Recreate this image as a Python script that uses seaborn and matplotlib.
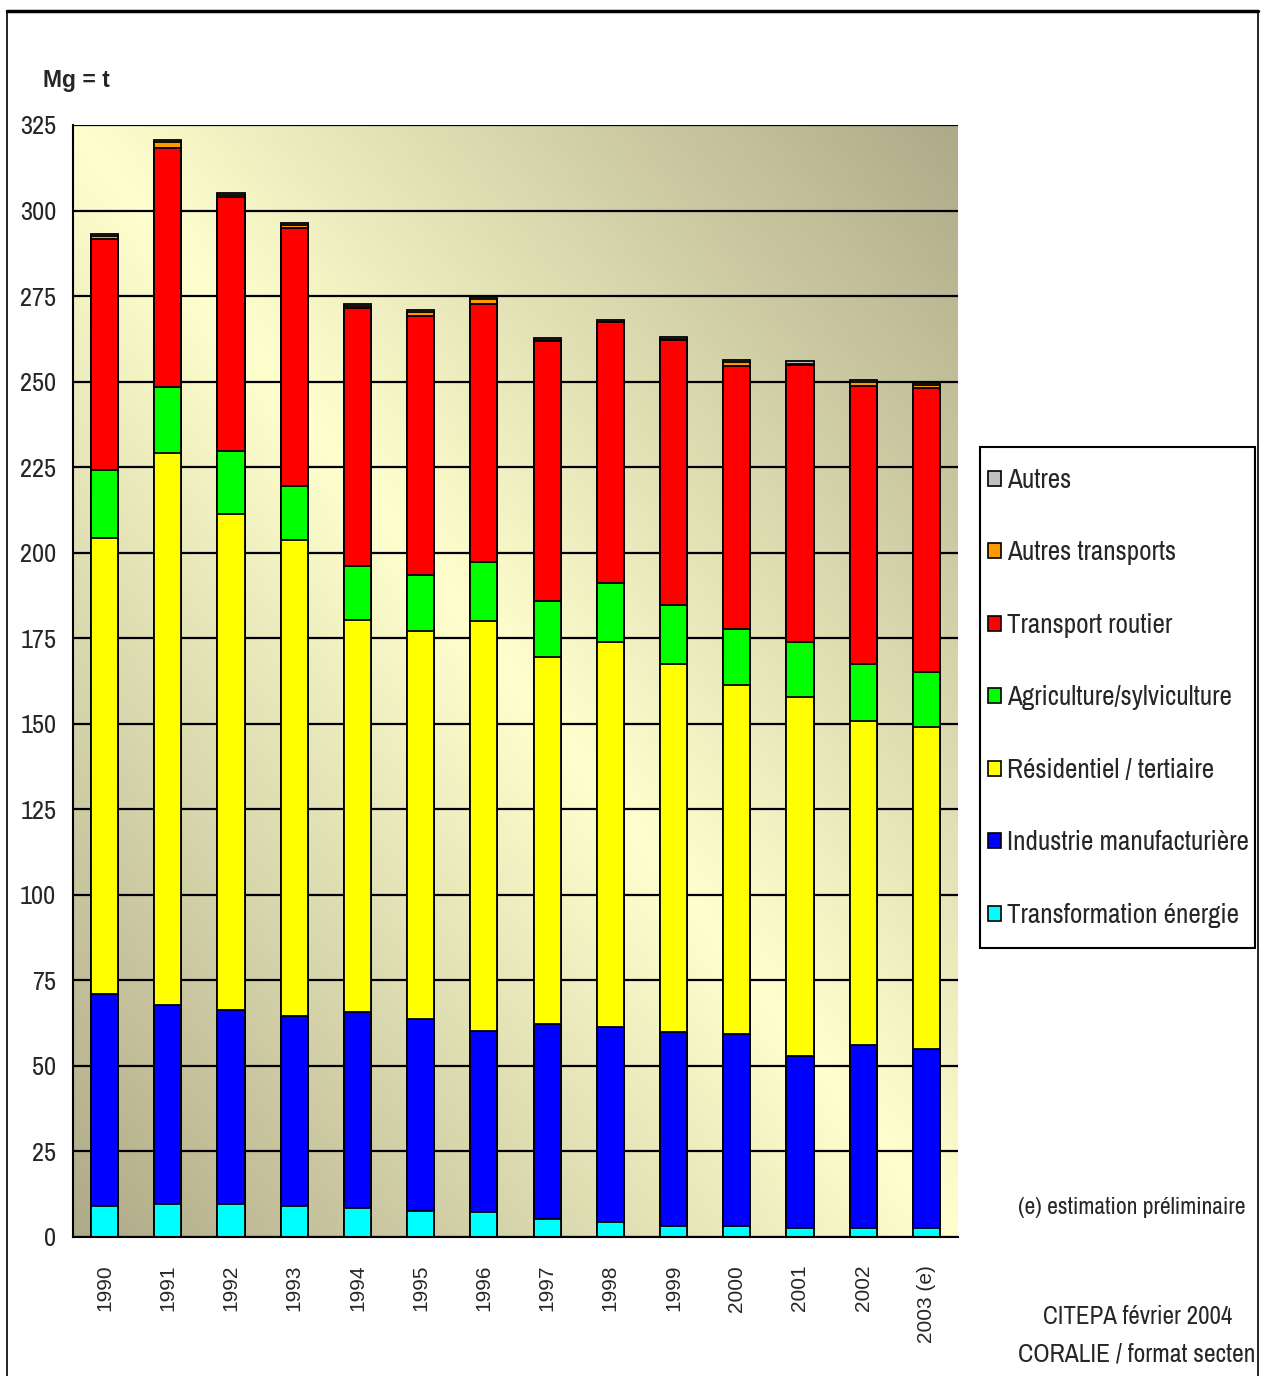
import numpy as np
import matplotlib
matplotlib.use("Agg")
import matplotlib.pyplot as plt
from matplotlib import font_manager
from matplotlib.patches import Patch, Rectangle
from matplotlib.lines import Line2D
import seaborn as sns

# emissions (Mg)
years = ["1990", "1991", "1992", "1993", "1994", "1995", "1996",
         "1997", "1998", "1999", "2000", "2001", "2002", "2003 (e)"]
transformation_energie = [9.1, 9.6, 9.6, 9.1, 8.4, 7.7, 7.3, 5.3, 4.5, 3.2, 3.2, 2.5, 2.5, 2.5]
industrie = [61.9, 58.2, 56.7, 55.5, 57.4, 56.1, 52.9, 57.0, 56.8, 56.8, 56.1, 50.4, 53.6, 52.4]
residentiel = [133.4, 161.4, 145.0, 139.1, 114.5, 113.3, 119.9, 107.1, 112.6, 107.5, 101.9, 105.0, 94.8, 94.1]
agriculture = [19.8, 19.1, 18.5, 15.9, 15.9, 16.5, 17.1, 16.5, 17.2, 17.1, 16.5, 15.9, 16.6, 16.0]
transport_routier = [67.5, 70.0, 74.3, 75.4, 75.3, 75.6, 75.5, 76.1, 76.2, 77.7, 76.8, 81.2, 81.3, 83.2]
autres_transports = [1.0, 1.6, 0.4, 0.8, 0.7, 1.1, 1.5, 0.3, 0.2, 0.3, 1.2, 0.2, 1.1, 0.8]
autres = [0.5, 0.6, 0.5, 0.5, 0.4, 0.5, 0.6, 0.5, 0.5, 0.5, 0.5, 0.7, 0.5, 0.5]

series = ["Transformation énergie", "Industrie manufacturière", "Résidentiel / tertiaire",
          "Agriculture/sylviculture", "Transport routier", "Autres transports", "Autres"]
colors = ["#00FFFF", "#0000FF", "#FFFF00", "#00FF00", "#FF0000", "#FF9900", "#C0C0C0"]
yticks = list(range(0, 326, 25))

sns.set_style("white")

# look for a narrow face, the original uses a condensed Arial look
fam, stretch, scale = "Liberation Sans", "normal", 0.78
for f in font_manager.fontManager.ttflist:
    if "Narrow" in f.name or "Condensed" in f.name:
        fam, stretch, scale = f.name, "normal", 1.0
        break
else:
    for f in font_manager.fontManager.ttflist:
        if f.stretch in ("condensed", "semi-condensed") and f.weight in (400, "normal"):
            fam, stretch, scale = f.name, f.stretch, 0.9
            break
plt.rcParams["font.family"] = [fam, "DejaVu Sans"]
plt.rcParams["font.stretch"] = stretch

fig = plt.figure(figsize=(12.64, 13.76), dpi=100)
W, H = 1264, 1376
ax = fig.add_axes([73 / W, 1 - 1237 / H, (958 - 73) / W, (1237 - 125) / H])

# diagonal gradient background
u = np.linspace(0, 1, 300)[None, :]
v = np.linspace(0, 1, 300)[:, None]
t = np.abs(u - v)
light = np.array([255, 255, 206]) / 255
dark = np.array([174, 170, 136]) / 255
img = light + (dark - light) * t[..., None]
ax.imshow(img, extent=(-0.5, 13.5, 0, 325), origin="upper", aspect="auto",
          zorder=-1, interpolation="bilinear")

stack = np.cumsum(np.array([transformation_energie, industrie, residentiel, agriculture,
                            transport_routier, autres_transports, autres]), axis=0)
for i in range(len(series) - 1, -1, -1):
    sns.barplot(x=years, y=stack[i], color=colors[i], saturation=1, width=0.43,
                edgecolor="black", linewidth=1.3, errorbar=None, ax=ax, zorder=2)

ax.set_xlim(-0.5, 13.5)
ax.set_ylim(0, 325)
ax.set_xlabel("")
ax.set_ylabel("")
ax.set_yticks(yticks)
ax.set_yticklabels([str(y) for y in yticks], fontsize=19 * scale)
ax.yaxis.grid(True, color="black", linewidth=1.6)
ax.set_axisbelow(True)
ax.tick_params(axis="y", length=6, width=1.5, direction="out", pad=6)

ax.set_xticks(range(len(years)))
ax.set_xticklabels(years, rotation=90, fontsize=15, family=["Liberation Sans", "DejaVu Sans"],
                   stretch="normal", va="top", ha="center")
ax.tick_params(axis="x", which="major", length=0, pad=20)
ax.set_xticks(np.arange(-0.5, 14, 1), minor=True)
ax.tick_params(axis="x", which="minor", length=9, width=1.5, direction="out")

for s in ["top", "right"]:
    ax.spines[s].set_visible(False)
for s in ["left", "bottom"]:
    ax.spines[s].set_color("black")
    ax.spines[s].set_linewidth(1.5)

# legend, top entry first; frame drawn separately
handles = [Patch(facecolor=colors[i], edgecolor="black", linewidth=1.2)
           for i in range(len(series) - 1, -1, -1)]
labels = [series[i] for i in range(len(series) - 1, -1, -1)]
lfs = 19.5 * scale
em = lfs * 100 / 72
fig.legend(handles, labels, loc="upper left", bbox_to_anchor=(988 / W, 1 - 468 / H),
           fontsize=lfs, frameon=False, borderpad=0, borderaxespad=0,
           labelspacing=47.5 / em, handlelength=13 / em, handleheight=13 / em,
           handletextpad=6 / em)
fig.add_artist(Rectangle((980 / W, 1 - 948 / H), (1255 - 980) / W, (948 - 447) / H,
                         transform=fig.transFigure, fill=False, edgecolor="black",
                         linewidth=1.5))

fig.text(43 / W, 1 - 80 / H, "Mg = t", fontsize=16.5, fontweight="bold", va="center",
         family=["Liberation Sans", "DejaVu Sans"], stretch="normal")
fig.text(1245 / W, 1 - 1208 / H, "(e) estimation préliminaire", fontsize=17 * scale,
         ha="right", va="center")
fig.text(1138 / W, 1 - 1317 / H, "CITEPA février 2004", fontsize=18 * scale,
         ha="center", va="center")
fig.text(1137 / W, 1 - 1354 / H, "CORALIE / format secten", fontsize=18.5 * scale,
         ha="center", va="center")

# outer frame
fig.add_artist(Rectangle((7 / W, -0.05), (1258 - 7) / W, 0.05 + (H - 11) / H,
                         transform=fig.transFigure, fill=False, edgecolor="black", linewidth=1.2))
fig.add_artist(Line2D([7 / W, 1258 / W], [1 - 11 / H, 1 - 11 / H],
                      transform=fig.transFigure, color="black", linewidth=2.5))

fig.savefig("out.png", dpi=100)
